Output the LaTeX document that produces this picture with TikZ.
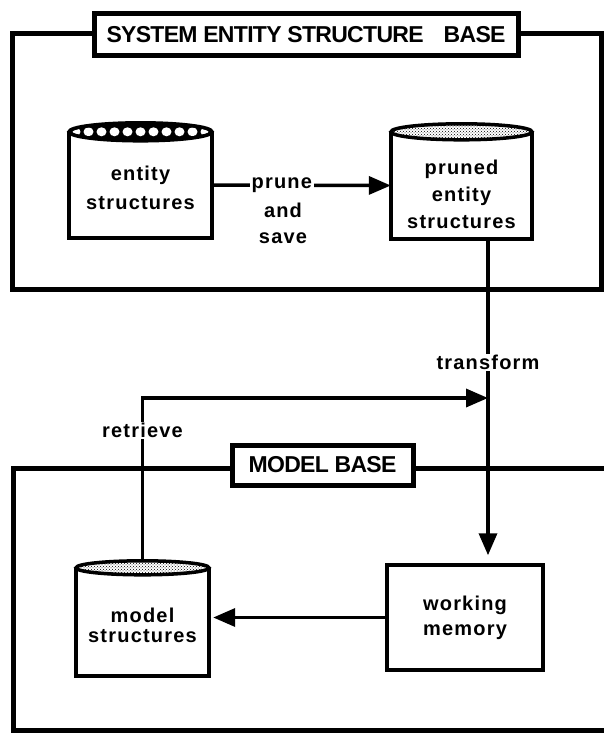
\documentclass[tikz,border=0pt]{standalone}
\usepackage{fontspec}
\setmainfont{Liberation Sans}
\newfontfamily\lblfont[LetterSpace=6]{Liberation Sans Bold}
\newfontfamily\ttlfont[LetterSpace=-3]{Liberation Sans Bold}
\usetikzlibrary{arrows.meta,patterns,calc}
\begin{document}
\begin{tikzpicture}[x=1pt,y=-1pt,
  frameline/.style={line width=5pt},
  titlebox/.style={draw, line width=5pt, fill=white, inner sep=0pt,
    font=\ttlfont\fontsize{23}{26}\selectfont},
  cylbody/.style={inner sep=0pt},
  cylline/.style={line width=3.5pt},
  lbl/.style={align=center, inner sep=1.5pt, font=\lblfont\fontsize{20}{#1}\selectfont},
  lbl/.default=25,
  conn/.style={line width=3.5pt},
  arr/.style={-{Triangle[length=22pt,width=18pt]}}
]
\useasboundingbox (0,0) rectangle (603,733);
\fill[white] (0,0) rectangle (603,733);

% frames
\draw[frameline] (12,34) rectangle (601,289);
\draw[frameline] (606,468) -- (13,468) -- (13,730) -- (606,730);

% titles
\node[titlebox, minimum width=424pt, minimum height=42pt] (sesb) at (306,35)
  {SYSTEM ENTITY STRUCTURE\hspace{20pt}BASE};
\node[titlebox, minimum width=181pt, minimum height=40pt] (mb) at (322.5,465)
  {MODEL BASE};

% cylinder bodies (geometry nodes)
\node[cylbody, minimum width=143pt, minimum height=106pt] (es) at (140.5,185) {};
\node[cylbody, minimum width=141pt, minimum height=107pt] (pes) at (461.5,185.5) {};
\node[cylbody, minimum width=133pt, minimum height=108pt] (ms) at (142.5,622) {};
\node[draw, line width=3.5pt, minimum width=156pt, minimum height=105pt, lbl=25] (wm) at (465,617.5) {working\\memory};

% entity structures cylinder
\draw[cylline] (es.north west) -- (es.south west) -- (es.south east) -- (es.north east);
\fill[black] (es.north) ellipse [x radius=71.5pt, y radius=9pt];
\begin{scope}
  \clip (es.north) ellipse [x radius=68pt, y radius=6.5pt];
  \foreach \i in {-5,...,5}
    \fill[white] ($(es.north)+(\i*13,0)$) ellipse [x radius=5pt, y radius=4.5pt];
\end{scope}
\draw[cylline] (es.north) ellipse [x radius=71.5pt, y radius=9pt];

% pruned entity structures cylinder
\draw[cylline] (pes.north west) -- (pes.south west) -- (pes.south east) -- (pes.north east);
\path[cylline, draw, preaction={fill=white}, pattern=crosshatch dots]
  (pes.north) ellipse [x radius=70.5pt, y radius=8pt];

% model structures cylinder
\draw[cylline] (ms.north west) -- (ms.south west) -- (ms.south east) -- (ms.north east);
\path[cylline, draw, preaction={fill=white}, pattern=crosshatch dots]
  (ms.north) ellipse [x radius=66.5pt, y radius=7pt];

% texts in cylinders
\node[lbl=29] (est) at (140.5,188) {entity\\structures};
\node[lbl=27] (pest) at (461.5,194) {pruned\\entity\\structures};
\node[lbl=20] (mst) at (142.5,625) {model\\structures};

% connectors
\coordinate (tx) at (488,0);
\coordinate (rj) at (488,398);

\draw[conn, arr] (es.east) -- (pes.west)
  node[pos=0.39, fill=white, lbl] (prune) {prune};
\node[lbl=26] (andsave) at (283,223) {and\\save};

\draw[conn, arr, shorten >=8pt] (pes.south -| tx) -- (wm.north -| tx)
  node[pos=0.38, fill=white, lbl] (transform) {transform};

\draw[conn, arr] ($(ms.north)+(0,-7)$) |- (rj)
  node[pos=0.4, fill=white, lbl] (retrieve) {retrieve};

\draw[conn, arr, shorten >=4pt] (wm.west) -- (wm.west -| ms.east);
\end{tikzpicture}
\end{document}
